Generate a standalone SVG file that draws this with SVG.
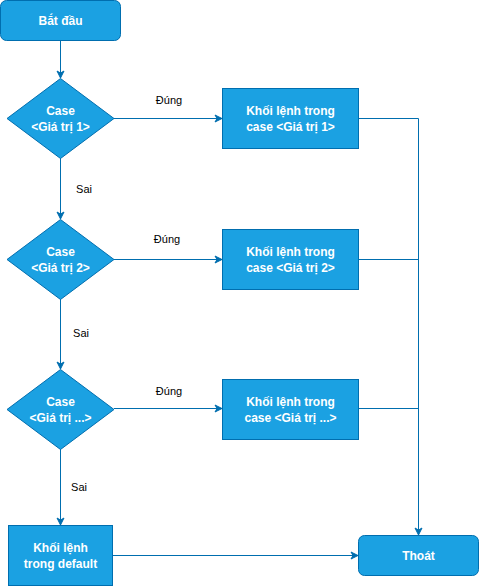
<svg xmlns="http://www.w3.org/2000/svg" width="479" height="586" viewBox="0 0 479 586">
<defs>
<marker id="arr" markerWidth="10" markerHeight="10" refX="8" refY="5" orient="auto" markerUnits="userSpaceOnUse">
<path d="M1,1.5 L8,5 L1,8.5 L3,5 Z" fill="#006eaf" stroke="#006eaf" stroke-width="1"/>
</marker>
<style>
.n{fill:#1ba1e2;stroke:#006eaf;stroke-width:1}
.t{fill:#ffffff;font-family:"Liberation Sans",Arial,sans-serif;font-size:12px;font-weight:bold;text-anchor:middle}
.l{fill:#000000;font-family:"Liberation Sans",Arial,sans-serif;font-size:11px;text-anchor:middle}
.c{fill:none;stroke:#006eaf;stroke-width:1}
</style>
</defs>
<rect width="479" height="586" fill="#ffffff"/>
<g id="connectors">
<path class="c" d="M60.5,40.5 L60.5,78" marker-end="url(#arr)"/>
<path class="c" d="M114,118.5 L222,118.5" marker-end="url(#arr)"/>
<path class="c" d="M60.5,158 L60.5,219" marker-end="url(#arr)"/>
<path class="c" d="M114,259.5 L222,259.5" marker-end="url(#arr)"/>
<path class="c" d="M60.5,299 L60.5,369" marker-end="url(#arr)"/>
<path class="c" d="M114,408.5 L222,408.5" marker-end="url(#arr)"/>
<path class="c" d="M60.5,449 L60.5,525" marker-end="url(#arr)"/>
<path class="c" d="M113,555.5 L358,555.5" marker-end="url(#arr)"/>
<path class="c" d="M358,118.5 L418.5,118.5 L418.5,535" marker-end="url(#arr)"/>
<path class="c" d="M358,259.5 L418.5,259.5"/>
<path class="c" d="M358,408.5 L418.5,408.5"/>
<text class="l" x="169" y="104">Đúng</text>
<text class="l" x="167" y="243">Đúng</text>
<text class="l" x="169" y="395">Đúng</text>
<text class="l" x="84" y="193">Sai</text>
<text class="l" x="81" y="337">Sai</text>
<text class="l" x="79" y="491">Sai</text>
</g>
<g id="start">
<rect class="n" x="0.5" y="0.5" width="120" height="40" rx="6"/>
<text class="t" x="60.5" y="24.5">Bắt đầu</text>
</g>
<g id="case1">
<polygon class="n" points="60.5,78.5 114,118.5 60.5,158.5 7,118.5"/>
<text class="t" x="60.5" y="115">Case</text>
<text class="t" x="60.5" y="131">&lt;Giá trị 1&gt;</text>
</g>
<g id="block1">
<rect class="n" x="222.5" y="88.5" width="136" height="60"/>
<text class="t" x="290.5" y="115">Khối lệnh trong</text>
<text class="t" x="290.5" y="131">case &lt;Giá trị 1&gt;</text>
</g>
<g id="case2">
<polygon class="n" points="60.5,219.5 114,259.5 60.5,299.5 7,259.5"/>
<text class="t" x="60.5" y="256">Case</text>
<text class="t" x="60.5" y="272">&lt;Giá trị 2&gt;</text>
</g>
<g id="block2">
<rect class="n" x="222.5" y="229.5" width="136" height="60"/>
<text class="t" x="290.5" y="256">Khối lệnh trong</text>
<text class="t" x="290.5" y="272">case &lt;Giá trị 2&gt;</text>
</g>
<g id="case3">
<polygon class="n" points="60.5,369.5 114,409.5 60.5,449.5 7,409.5"/>
<text class="t" x="60.5" y="406">Case</text>
<text class="t" x="60.5" y="422">&lt;Giá trị ...&gt;</text>
</g>
<g id="block3">
<rect class="n" x="222.5" y="379.5" width="136" height="60"/>
<text class="t" x="290.5" y="406">Khối lệnh trong</text>
<text class="t" x="290.5" y="422">case &lt;Giá trị ...&gt;</text>
</g>
<g id="default">
<rect class="n" x="8.5" y="525.5" width="104" height="60"/>
<text class="t" x="60.5" y="552">Khối lệnh</text>
<text class="t" x="60.5" y="568">trong default</text>
</g>
<g id="exit">
<rect class="n" x="358.5" y="535.5" width="120" height="40" rx="6"/>
<text class="t" x="418.5" y="559.5">Thoát</text>
</g>
</svg>
